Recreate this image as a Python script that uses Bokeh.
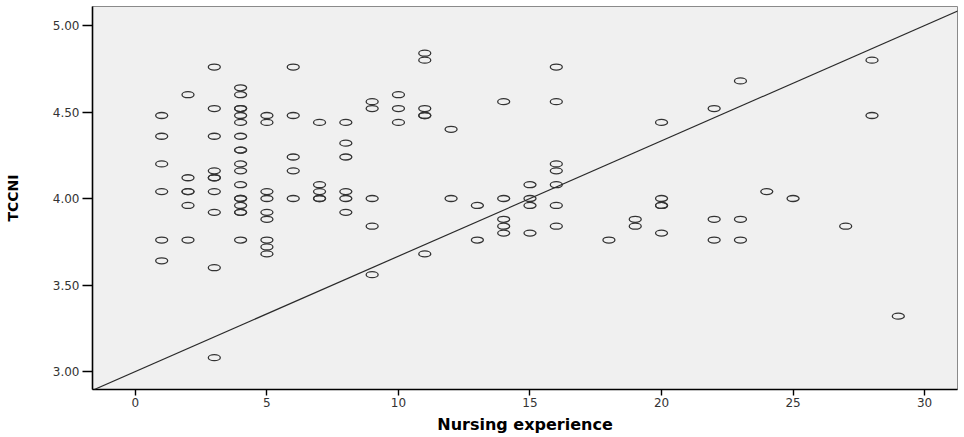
from bokeh.plotting import figure
from bokeh.models import Range1d, Slope, FixedTicker, ColumnDataSource
from bokeh.embed import file_html
from bokeh.resources import INLINE

# Nursing experience (years) and TCCNI score
experience = (
    [1] * 6 + [2] * 6 + [3] * 10 + [4] * 18 + [5] * 9 + [6] * 5 + [7] * 5 + [8] * 6
    + [9] * 5 + [10] * 3 + [11] * 6 + [12] * 2 + [13] * 2 + [14] * 5 + [15] * 4
    + [16] * 7 + [18] * 1 + [19] * 2 + [20] * 5 + [22] * 3 + [23] * 3 + [24] * 1
    + [25] * 1 + [27] * 1 + [28] * 2 + [29] * 1
)
tccni = (
    [4.48, 4.36, 4.20, 4.04, 3.76, 3.64]
    + [4.60, 4.12, 4.04, 4.04, 3.96, 3.76]
    + [4.76, 4.52, 4.36, 4.16, 4.12, 4.12, 4.04, 3.92, 3.60, 3.08]
    + [4.64, 4.60, 4.52, 4.52, 4.48, 4.44, 4.36, 4.28, 4.28, 4.20, 4.16, 4.08,
       4.00, 4.00, 3.96, 3.92, 3.92, 3.76]
    + [4.48, 4.44, 4.04, 4.00, 3.92, 3.88, 3.76, 3.72, 3.68]
    + [4.76, 4.48, 4.24, 4.16, 4.00]
    + [4.44, 4.08, 4.04, 4.00, 4.00]
    + [4.44, 4.32, 4.24, 4.04, 4.00, 3.92]
    + [4.56, 4.52, 4.00, 3.84, 3.56]
    + [4.60, 4.52, 4.44]
    + [4.84, 4.80, 4.52, 4.48, 4.48, 3.68]
    + [4.40, 4.00]
    + [3.96, 3.76]
    + [4.56, 4.00, 3.88, 3.84, 3.80]
    + [4.08, 4.00, 3.96, 3.80]
    + [4.76, 4.56, 4.20, 4.16, 4.08, 3.96, 3.84]
    + [3.76]
    + [3.88, 3.84]
    + [4.44, 4.00, 3.96, 3.96, 3.80]
    + [4.52, 3.88, 3.76]
    + [4.68, 3.88, 3.76]
    + [4.04]
    + [4.00]
    + [3.84]
    + [4.80, 4.48]
    + [3.32]
)

# Reference line
line_intercept = 3.0
line_slope = 1 / 15

x_ticks = [0, 5, 10, 15, 20, 25, 30]
y_ticks = [3.0, 3.5, 4.0, 4.5, 5.0]
y_tick_labels = {3.0: "3.00", 3.5: "3.50", 4.0: "4.00", 4.5: "4.50", 5.0: "5.00"}

src = ColumnDataSource(data=dict(x=experience, y=tccni))

p = figure(
    width=958, height=436,
    output_backend="svg", toolbar_location=None,
    x_range=Range1d(-1.63, 31.25), y_range=Range1d(2.896, 5.11),
    min_border_left=92, min_border_right=1, min_border_top=6,
    background_fill_color="#f0f0f0", border_fill_color="white",
)
p.outline_line_color = "#8a8a8a"
p.outline_line_width = 1
p.xgrid.visible = False
p.ygrid.visible = False

p.ellipse(x="x", y="y", width=12, height=6, width_units="screen", height_units="screen",
          source=src, fill_color=None, line_color="#333333", line_width=1.3)

p.add_layout(Slope(gradient=line_slope, y_intercept=line_intercept,
                   line_color="#2a2a2a", line_width=1.2))

for ax in (p.xaxis[0], p.yaxis[0]):
    ax.axis_line_color = "black"
    ax.axis_line_width = 1.6
    ax.major_tick_line_color = "black"
    ax.major_tick_line_width = 1.4
    ax.minor_tick_line_color = None
    ax.major_tick_in = 0
    ax.major_label_text_font = "DejaVu Sans"
    ax.major_label_text_font_size = "12px"
    ax.major_label_text_color = "#333333"
    ax.axis_label_text_font = "DejaVu Sans"
    ax.axis_label_text_font_style = "bold"
    ax.axis_label_text_color = "black"

p.xaxis.ticker = FixedTicker(ticks=x_ticks)
p.xaxis.major_tick_out = 6
p.xaxis.major_label_standoff = 2
p.xaxis.axis_label = "Nursing experience"
p.xaxis.axis_label_text_font_size = "16px"
p.xaxis.axis_label_standoff = 5

p.yaxis.ticker = FixedTicker(ticks=y_ticks)
p.yaxis.major_label_overrides = y_tick_labels
p.yaxis.major_tick_out = 10
p.yaxis.major_label_standoff = 3
p.yaxis.axis_label = "TCCNI"
p.yaxis.axis_label_text_font_size = "14px"
p.yaxis.axis_label_standoff = 29

open("out.html", "w").write(file_html(p, INLINE))
